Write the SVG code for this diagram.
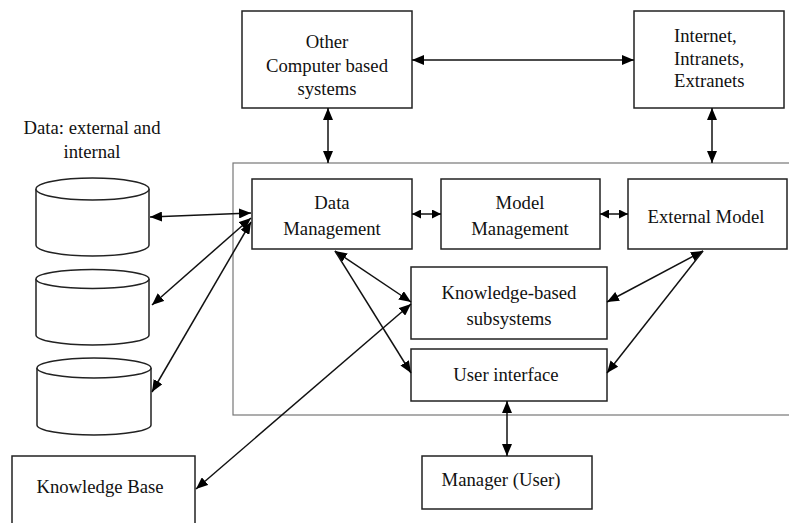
<svg xmlns="http://www.w3.org/2000/svg" width="789" height="523" viewBox="0 0 789 523">
<defs>
<marker id="ah" viewBox="0 0 12 10" refX="12" refY="5" markerWidth="12" markerHeight="10" markerUnits="userSpaceOnUse" orient="auto-start-reverse">
<path d="M0,0 L12,5 L0,10 Z" fill="#000"/>
</marker>
<marker id="ahs" viewBox="0 0 10 10" refX="10" refY="5" markerWidth="9" markerHeight="9" markerUnits="userSpaceOnUse" orient="auto-start-reverse">
<path d="M0,0 L10,5 L0,10 Z" fill="#000"/>
</marker>
</defs>
<style>
.box{fill:#fff;stroke:#222;stroke-width:1.5}
.cyl{fill:#fff;stroke:#222;stroke-width:1.5}
.outer{fill:none;stroke:#777;stroke-width:1.2}
text{font-family:'Liberation Serif','DejaVu Serif','Times New Roman',serif;font-size:18.7px;fill:#111}
.t{text-anchor:middle}
.c{fill:none;stroke:#111;stroke-width:1.5}
.d{marker-start:url(#ah);marker-end:url(#ah)}
.e{marker-end:url(#ah)}
.ds{marker-start:url(#ahs);marker-end:url(#ahs)}
</style>
<rect width="789" height="523" fill="#fff"/>

<g id="container">
<rect class="outer" x="233" y="163" width="580" height="252"/>
</g>

<g id="other-systems">
<rect class="box" x="242" y="11" width="170" height="97"/>
<text class="t" x="327" y="48">Other</text>
<text class="t" x="327" y="72">Computer based</text>
<text class="t" x="327" y="95">systems</text>
</g>

<g id="internet">
<rect class="box" x="634" y="11" width="150" height="97"/>
<text x="674" y="42">Internet,</text>
<text x="674" y="65">Intranets,</text>
<text x="674" y="87">Extranets</text>
</g>

<g id="data-label">
<text class="t" x="92" y="134">Data: external and</text>
<text class="t" x="92" y="158">internal</text>
</g>

<g id="db1">
<path class="cyl" d="M36,189 L36,245 A56.5,11 0 0 0 149,245 L149,189"/>
<ellipse class="cyl" cx="92.5" cy="189" rx="56.5" ry="11"/>
</g>
<g id="db2">
<path class="cyl" d="M36,279 L36,335 A56.5,10 0 0 0 149,335 L149,279"/>
<ellipse class="cyl" cx="92.5" cy="279" rx="56.5" ry="9.5"/>
</g>
<g id="db3">
<path class="cyl" d="M37,368 L37,425 A57,10 0 0 0 151,425 L151,368"/>
<ellipse class="cyl" cx="94" cy="368" rx="57" ry="10"/>
</g>

<g id="data-management">
<rect class="box" x="252" y="179" width="160" height="70"/>
<text class="t" x="332" y="209">Data</text>
<text class="t" x="332" y="235">Management</text>
</g>

<g id="model-management">
<rect class="box" x="441" y="179" width="159" height="70"/>
<text class="t" x="520" y="209">Model</text>
<text class="t" x="520" y="235">Management</text>
</g>

<g id="external-model">
<rect class="box" x="628" y="179" width="159" height="70"/>
<text class="t" x="706" y="223">External Model</text>
</g>

<g id="kbs">
<rect class="box" x="411" y="267" width="196" height="72"/>
<text class="t" x="509" y="299">Knowledge-based</text>
<text class="t" x="509" y="325">subsystems</text>
</g>

<g id="user-interface">
<rect class="box" x="411" y="349" width="196" height="52"/>
<text class="t" x="506" y="381">User interface</text>
</g>

<g id="manager">
<rect class="box" x="422" y="456" width="170" height="53"/>
<text class="t" x="501" y="486">Manager (User)</text>
</g>

<g id="knowledge-base">
<rect class="box" x="12" y="456" width="183" height="80"/>
<text class="t" x="100" y="493">Knowledge Base</text>
</g>

<g id="connectors">
<line class="c d" x1="412" y1="60" x2="634" y2="60"/>
<line class="c d" x1="328" y1="108" x2="328" y2="163"/>
<line class="c d" x1="712" y1="108" x2="712" y2="163"/>
<line class="c ds" x1="412" y1="214" x2="441" y2="214"/>
<line class="c ds" x1="600" y1="214" x2="628" y2="214"/>
<line class="c d" x1="251" y1="213" x2="150" y2="217"/>
<line class="c d" x1="251" y1="218" x2="152" y2="305"/>
<line class="c d" x1="251" y1="222" x2="152" y2="392"/>
<line class="c d" x1="335" y1="251" x2="411" y2="302"/>
<line class="c e" x1="335" y1="251" x2="411" y2="373"/>
<line class="c d" x1="196" y1="489" x2="411" y2="304"/>
<line class="c d" x1="703" y1="251" x2="607" y2="302"/>
<line class="c e" x1="703" y1="251" x2="607" y2="373"/>
<line class="c d" x1="507" y1="401" x2="507" y2="456"/>
</g>
</svg>
